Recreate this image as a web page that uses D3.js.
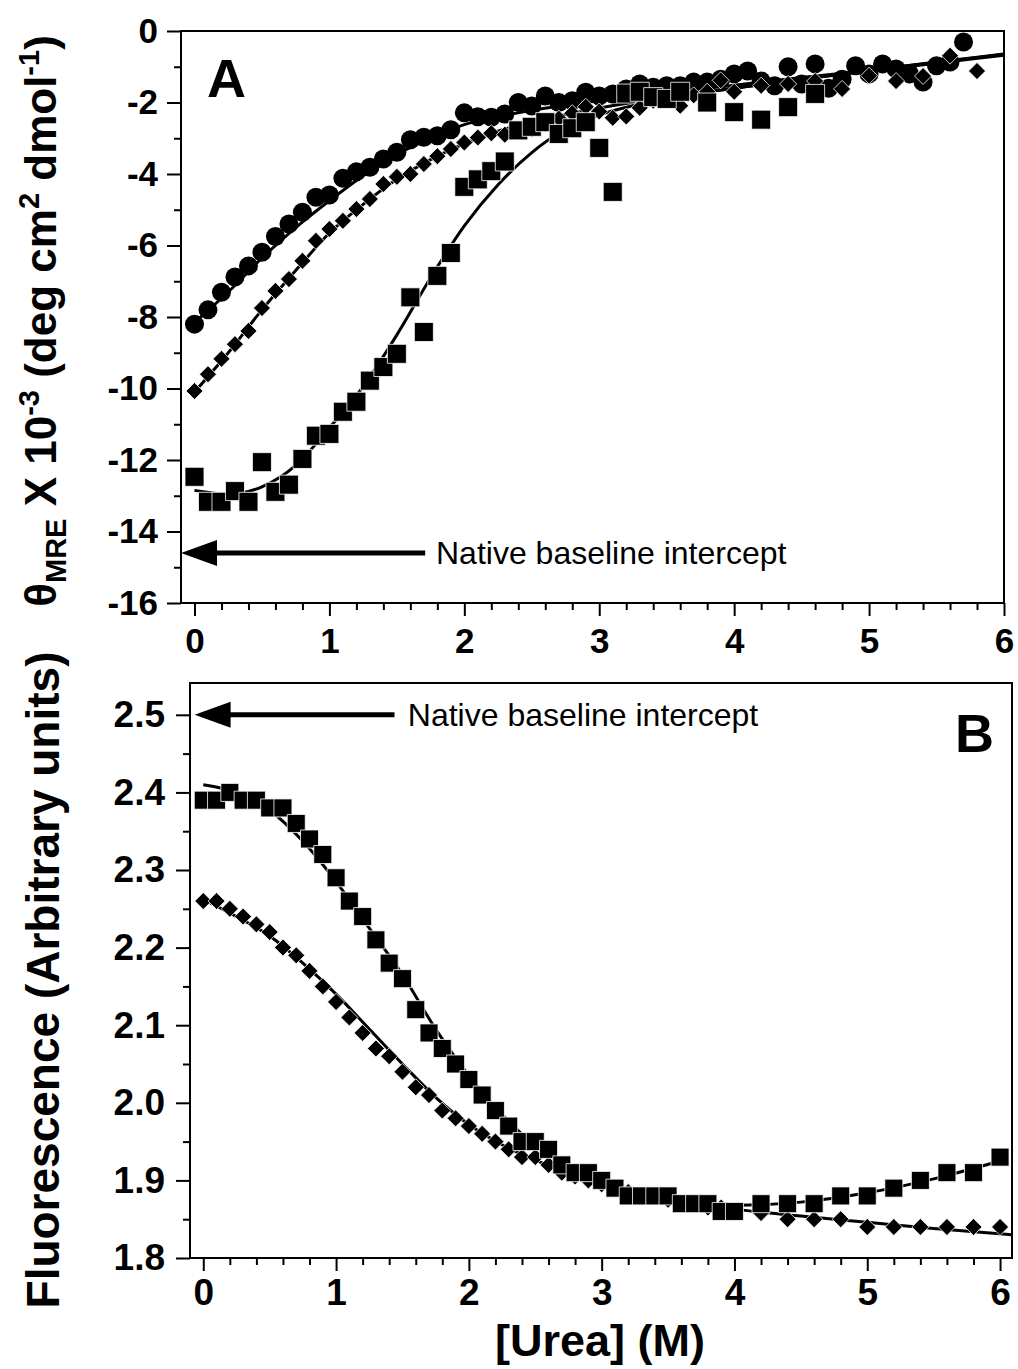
<!DOCTYPE html>
<html>
<head>
<meta charset="utf-8">
<script src="https://cdn.jsdelivr.net/npm/d3@7/dist/d3.min.js"></script>
<style>
  body { margin: 0; background: #fff; }
  svg text { font-family: "Liberation Sans", Arial, sans-serif; }
</style>
</head>
<body>
<div class="container"></div>
<script>
// ---- panel A : CD signal (x 10^-3) vs [urea] ----
let circA = [[0,-8.2],[0.1,-7.8],[0.2,-7.31],[0.3,-6.88],[0.4,-6.57],[0.5,-6.19],[0.6,-5.75],[0.7,-5.4],[0.8,-5.07],[0.9,-4.65],
  [1.0,-4.59],[1.1,-4.12],[1.2,-3.94],[1.3,-3.81],[1.4,-3.58],[1.5,-3.39],[1.6,-3.04],[1.7,-2.97],[1.8,-2.93],[1.9,-2.76],
  [2.0,-2.29],[2.1,-2.4],[2.2,-2.41],[2.3,-2.32],[2.4,-2.0],[2.5,-2.1],[2.6,-1.82],[2.7,-2.0],[2.8,-1.95],[2.9,-1.71],
  [3.0,-1.82],[3.1,-1.76],[3.2,-1.62],[3.3,-1.48],[3.4,-1.57],[3.5,-1.53],[3.6,-1.53],[3.7,-1.43],[3.8,-1.43],[3.9,-1.35],
  [4.0,-1.2],[4.1,-1.12],[4.2,-1.4],[4.3,-1.53],[4.4,-1.0],[4.5,-1.48],[4.6,-0.92],[4.7,-1.6],[4.8,-1.35],[4.9,-0.97],
  [5.0,-1.2],[5.1,-0.92],[5.2,-1.06],[5.3,-1.2],[5.4,-1.43],[5.5,-0.97],[5.6,-0.87],[5.7,-0.31]]

let diamA = [[0,-10.07],[0.1,-9.6],[0.2,-9.17],[0.3,-8.76],[0.4,-8.39],[0.5,-7.75],[0.6,-7.27],[0.7,-6.94],[0.8,-6.43],[0.9,-5.87],
  [1.0,-5.54],[1.1,-5.31],[1.2,-4.98],[1.3,-4.7],[1.4,-4.28],[1.5,-4.08],[1.6,-4.0],[1.7,-3.72],[1.8,-3.5],[1.9,-3.3],
  [2.0,-3.12],[2.1,-2.98],[2.2,-2.86],[2.3,-2.9],[2.4,-2.82],[2.5,-2.74],[2.6,-2.6],[2.7,-2.45],[2.8,-2.3],[2.9,-2.12],
  [3.0,-2.25],[3.1,-2.43],[3.2,-2.39],[3.3,-2.15],[3.4,-1.95],[3.5,-1.9],[3.6,-2.09],[3.7,-1.8],[3.8,-1.7],[3.9,-1.38],
  [4.0,-1.7],[4.2,-1.53],[4.4,-1.48],[4.6,-1.4],[4.8,-1.62],[5.0,-1.25],[5.2,-1.4],[5.4,-1.26],[5.6,-0.69],[5.8,-1.12]]

let sqA = [[0,-12.47],[0.1,-13.17],[0.2,-13.17],[0.3,-12.87],[0.4,-13.17],[0.5,-12.06],[0.6,-12.89],[0.7,-12.69],[0.8,-11.97],[0.9,-11.32],
  [1.0,-11.27],[1.1,-10.65],[1.2,-10.37],[1.3,-9.78],[1.4,-9.4],[1.5,-9.03],[1.6,-7.45],[1.7,-8.42],[1.8,-6.85],[1.9,-6.21],
  [2.0,-4.36],[2.1,-4.15],[2.2,-3.92],[2.3,-3.65],[2.4,-2.78],[2.5,-2.68],[2.6,-2.55],[2.7,-2.88],[2.8,-2.72],[2.9,-2.55],
  [3.0,-3.27],[3.1,-4.5],[3.2,-1.75],[3.3,-1.7],[3.4,-1.85],[3.5,-1.9],[3.6,-1.7],[3.8,-2.0],[4.0,-2.27],[4.2,-2.48],
  [4.4,-2.13],[4.6,-1.76]]

// fitted curves
let fitCircA = [[0,-8.15],[0.25,-7.3],[0.5,-6.35],[0.75,-5.5],[1.0,-4.75],[1.25,-4.05],[1.5,-3.45],[1.75,-3.0],[2.0,-2.62],
  [2.25,-2.4],[2.5,-2.22],[3.0,-1.95],[3.5,-1.73],[4.0,-1.52],[4.5,-1.3],[5.0,-1.1],[5.5,-0.88],[6.0,-0.65]]
let fitDiamA = [[0,-10.1],[0.25,-9.0],[0.5,-7.8],[0.75,-6.7],[1.0,-5.65],[1.25,-4.85],[1.5,-4.15],[1.75,-3.6],[2.0,-3.15],
  [2.25,-2.8],[2.5,-2.55],[3.0,-2.15],[3.5,-1.85],[4.0,-1.6],[4.5,-1.35],[5.0,-1.12],[5.5,-0.9],[6.0,-0.68]]
let fitSqA = [[0,-12.85],[0.25,-12.95],[0.5,-12.75],[0.75,-12.15],[1.0,-11.1],[1.25,-9.95],[1.5,-8.5],[1.75,-6.9],[2.0,-5.45],
  [2.25,-4.3],[2.5,-3.4],[2.75,-2.75],[3.0,-2.35],[3.5,-1.9],[4.0,-1.6],[4.5,-1.35],[5.0,-1.1],[5.5,-0.87],[6.0,-0.64]]

// ---- panel B : fluorescence vs [urea] ----
let sqB = [[0,2.39],[0.1,2.39],[0.2,2.40],[0.3,2.39],[0.4,2.39],[0.5,2.38],[0.6,2.38],[0.7,2.36],[0.8,2.34],[0.9,2.32],
  [1.0,2.29],[1.1,2.26],[1.2,2.24],[1.3,2.21],[1.4,2.18],[1.5,2.16],[1.6,2.12],[1.7,2.09],[1.8,2.07],[1.9,2.05],
  [2.0,2.03],[2.1,2.01],[2.2,1.99],[2.3,1.97],[2.4,1.95],[2.5,1.95],[2.6,1.94],[2.7,1.92],[2.8,1.91],[2.9,1.91],
  [3.0,1.90],[3.1,1.89],[3.2,1.88],[3.3,1.88],[3.4,1.88],[3.5,1.88],[3.6,1.87],[3.7,1.87],[3.8,1.87],[3.9,1.86],
  [4.0,1.86],[4.2,1.87],[4.4,1.87],[4.6,1.87],[4.8,1.88],[5.0,1.88],[5.2,1.89],[5.4,1.90],[5.6,1.91],[5.8,1.91],[6.0,1.93]]

let diamB = [[0,2.26],[0.1,2.26],[0.2,2.25],[0.3,2.24],[0.4,2.23],[0.5,2.22],[0.6,2.20],[0.7,2.19],[0.8,2.17],[0.9,2.15],
  [1.0,2.13],[1.1,2.11],[1.2,2.09],[1.3,2.07],[1.4,2.06],[1.5,2.04],[1.6,2.02],[1.7,2.01],[1.8,1.99],[1.9,1.98],
  [2.0,1.97],[2.1,1.96],[2.2,1.95],[2.3,1.94],[2.4,1.93],[2.5,1.93],[2.6,1.92],[2.7,1.91],[2.8,1.905],[2.9,1.90],
  [3.0,1.895],[3.1,1.89],[3.2,1.885],[3.3,1.88],[3.4,1.88],[3.5,1.875],[3.6,1.87],[3.7,1.87],[3.8,1.865],[3.9,1.865],
  [4.0,1.86],[4.2,1.858],[4.4,1.85],[4.6,1.85],[4.8,1.85],[5.0,1.84],[5.2,1.84],[5.4,1.84],[5.6,1.84],[5.8,1.84],[6.0,1.84]]

let fitSqB = [[0,2.41],[0.25,2.40],[0.5,2.377],[0.75,2.337],[1.0,2.285],[1.25,2.225],[1.5,2.165],[1.75,2.095],[2.0,2.035],
  [2.25,1.985],[2.5,1.945],[2.75,1.918],[3.0,1.899],[3.5,1.878],[4.0,1.868],[4.5,1.872],[5.0,1.884],[5.5,1.902],[6.0,1.925]]
let fitDiamB = [[0,2.262],[0.25,2.24],[0.5,2.215],[0.75,2.18],[1.0,2.14],[1.25,2.095],[1.5,2.05],[1.75,2.007],[2.0,1.972],
  [2.25,1.946],[2.5,1.926],[2.75,1.91],[3.0,1.896],[3.5,1.877],[4.0,1.863],[4.5,1.854],[5.0,1.846],[5.5,1.838],[6.09,1.83]]

let xTicks = [0, 1, 2, 3, 4, 5, 6]
let yTicksA = [0, -2, -4, -6, -8, -10, -12, -14, -16]
let yTicksB = [2.5, 2.4, 2.3, 2.2, 2.1, 2.0, 1.9, 1.8]

let width = 1018
let height = 1369
let font = '"Liberation Sans", Arial, sans-serif'

let svg = d3.select(".container")
  .append("svg")
  .attr("width", width)
  .attr("height", height)

function panel(opts) {
  let x = d3.scaleLinear().domain(opts.xDomain).range([opts.left, opts.right])
  let y = d3.scaleLinear().domain(opts.yDomain).range([opts.bottom, opts.top])
  let g = svg.append("g")

  // minor ticks first, no labels
  g.append("g")
    .attr("transform", `translate(0,${opts.bottom})`)
    .call(d3.axisBottom(x).tickValues(opts.xMinor).tickSize(7).tickFormat(""))
  g.append("g")
    .attr("transform", `translate(${opts.left},0)`)
    .call(d3.axisLeft(y).tickValues(opts.yMinor).tickSize(7).tickFormat(""))

  g.append("g")
    .attr("class", "xaxis")
    .attr("transform", `translate(0,${opts.bottom})`)
    .call(d3.axisBottom(x).tickValues(xTicks).tickSize(13).tickPadding(opts.xPad).tickFormat(d => String(d)))
  g.append("g")
    .attr("class", "yaxis")
    .attr("transform", `translate(${opts.left},0)`)
    .call(d3.axisLeft(y).tickValues(opts.yTicks).tickSize(14).tickPadding(opts.yPad).tickFormat(opts.yFormat))

  g.selectAll(".domain").remove()
  g.selectAll(".tick line").attr("stroke", "#000").attr("stroke-width", 2)
  g.selectAll(".tick text")
    .attr("font-family", font)
    .attr("font-weight", "bold")
    .attr("font-size", opts.tickFont)
    .attr("fill", "#000")

  g.append("rect")
    .attr("x", opts.left)
    .attr("y", opts.top)
    .attr("width", opts.right - opts.left)
    .attr("height", opts.bottom - opts.top)
    .attr("fill", "none")
    .attr("stroke", "#000")
    .attr("stroke-width", 2)

  let line = d3.line()
    .x(d => x(d[0]))
    .y(d => y(d[1]))
    .curve(d3.curveMonotoneX)

  opts.fits.forEach(function (f) {
    g.append("path")
      .datum(f)
      .attr("d", line)
      .attr("fill", "none")
      .attr("stroke", "#000")
      .attr("stroke-width", 3)
  })

  opts.series.forEach(function (s) {
    let sel = g.append("g").selectAll("path")
      .data(s.data)
      .enter()
      .append("path")
      .attr("transform", d => `translate(${x(d[0])},${y(d[1])})`)
      .attr("fill", "#000")
    if (s.type === "circle") {
      sel.attr("d", d3.symbol().type(d3.symbolCircle).size(Math.PI * s.size * s.size))
    } else if (s.type === "square") {
      let h = s.size
      sel.attr("d", `M${-h},${-h}H${h}V${h}H${-h}Z`)
        .attr("stroke", "#fff").attr("stroke-width", 0.8)
    } else {
      let h = s.size
      sel.attr("d", `M0,${-h}L${h},0L0,${h}L${-h},0Z`)
        .attr("stroke", "#fff").attr("stroke-width", 0.8)
    }
  })

  // native baseline arrow
  let ay = y(opts.arrow.y)
  let tip = x(opts.arrow.x0)
  g.append("line")
    .attr("x1", tip + 30)
    .attr("x2", x(opts.arrow.x1))
    .attr("y1", ay)
    .attr("y2", ay)
    .attr("stroke", "#000")
    .attr("stroke-width", 5)
  g.append("path")
    .attr("d", `M${tip},${ay}L${tip + 36},${ay - 13}L${tip + 36},${ay + 13}Z`)
    .attr("fill", "#000")
  g.append("text")
    .attr("x", x(opts.arrow.xt))
    .attr("y", ay + 11)
    .attr("font-family", font)
    .attr("font-size", "32px")
    .attr("fill", "#000")
    .text("Native baseline intercept")

  g.append("text")
    .attr("x", opts.letter[0])
    .attr("y", opts.letter[1])
    .attr("font-family", font)
    .attr("font-weight", "bold")
    .attr("font-size", "54px")
    .text(opts.name)
}

panel({
  name: "A",
  letter: [207, 97],
  left: 181, right: 1004, top: 31, bottom: 603,
  xDomain: [-0.1, 6], yDomain: [-16, 0],
  xMinor: [0.2,0.4,0.6,0.8,1.2,1.4,1.6,1.8,2.2,2.4,2.6,2.8,3.2,3.4,3.6,3.8,4.2,4.4,4.6,4.8,5.2,5.4,5.6,5.8],
  yMinor: [-1, -3, -5, -7, -9, -11, -13, -15],
  yTicks: yTicksA,
  yFormat: d => String(d),
  xPad: 12, yPad: 9, tickFont: "35px",
  fits: [fitCircA, fitDiamA, fitSqA],
  series: [
    { type: "circle", size: 9.5, data: circA },
    { type: "diamond", size: 8.5, data: diamA },
    { type: "square", size: 9.5, data: sqA }
  ],
  arrow: { y: -14.6, x0: -0.1, x1: 1.71, xt: 1.79 }
})

panel({
  name: "B",
  letter: [955, 752],
  left: 190, right: 1012, top: 683, bottom: 1258,
  xDomain: [-0.1, 6.09], yDomain: [1.8, 2.541],
  xMinor: [0.2,0.4,0.6,0.8,1.2,1.4,1.6,1.8,2.2,2.4,2.6,2.8,3.2,3.4,3.6,3.8,4.2,4.4,4.6,4.8,5.2,5.4,5.6,5.8],
  yMinor: [2.45, 2.35, 2.25, 2.15, 2.05, 1.95, 1.85],
  yTicks: yTicksB,
  yFormat: d3.format(".1f"),
  xPad: 8, yPad: 11, tickFont: "37px",
  fits: [fitSqB, fitDiamB],
  series: [
    { type: "diamond", size: 8.5, data: diamB },
    { type: "square", size: 9, data: sqB }
  ],
  arrow: { y: 2.5, x0: -0.065, x1: 1.44, xt: 1.54 }
})

// y axis titles
let ta = svg.append("text")
  .attr("transform", "translate(56,321) rotate(-90)")
  .attr("text-anchor", "middle")
  .attr("font-family", font)
  .attr("font-weight", "bold")
  .attr("font-size", "44px")
  .attr("fill", "#000")
ta.append("tspan").text("θ")
ta.append("tspan").attr("dy", 10).attr("font-size", "29px").text("MRE")
ta.append("tspan").attr("dy", -10).text(" X 10")
ta.append("tspan").attr("dy", -17).attr("font-size", "29px").text("-3")
ta.append("tspan").attr("dy", 17).text(" (deg cm")
ta.append("tspan").attr("dy", -17).attr("font-size", "29px").text("2")
ta.append("tspan").attr("dy", 17).text(" dmol")
ta.append("tspan").attr("dy", -17).attr("font-size", "29px").text("-1")
ta.append("tspan").attr("dy", 17).text(")")

svg.append("text")
  .attr("transform", "translate(59,980) rotate(-90)")
  .attr("text-anchor", "middle")
  .attr("font-family", font)
  .attr("font-weight", "bold")
  .attr("font-size", "46px")
  .attr("fill", "#000")
  .text("Fluorescence (Arbitrary units)")

svg.append("text")
  .attr("x", 600)
  .attr("y", 1356)
  .attr("text-anchor", "middle")
  .attr("font-family", font)
  .attr("font-weight", "bold")
  .attr("font-size", "45px")
  .attr("fill", "#000")
  .text("[Urea] (M)")
</script>
</body>
</html>
